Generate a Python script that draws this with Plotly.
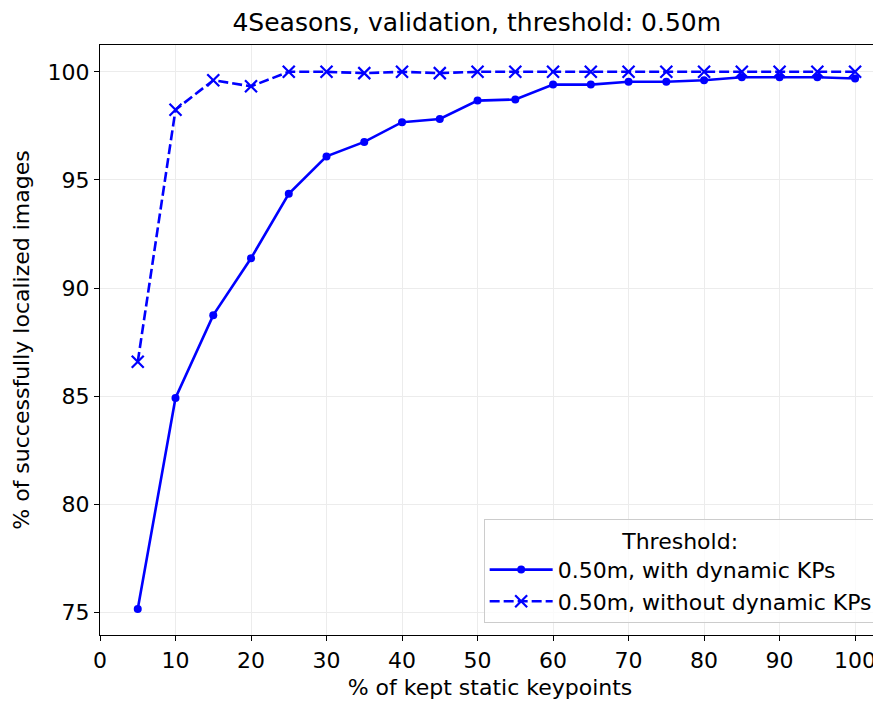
import plotly.graph_objects as go

kept = [5, 10, 15, 20, 25, 30, 35, 40, 45, 50, 55, 60, 65, 70, 75, 80, 85, 90, 95, 100]
with_dyn = [75.16, 84.92, 88.75, 91.38, 94.36, 96.09, 96.76, 97.67, 97.82, 98.67,
            98.72, 99.41, 99.41, 99.54, 99.54, 99.61, 99.75, 99.75, 99.75, 99.69]
without_dyn = [86.59, 98.25, 99.61, 99.33, 100.0, 100.0, 99.94, 100.0, 99.94, 100.0,
               100.0, 100.0, 100.0, 100.0, 100.0, 100.0, 100.0, 100.0, 100.0, 100.0]
x_ticks = [0, 10, 20, 30, 40, 50, 60, 70, 80, 90, 100]
y_ticks = [75, 80, 85, 90, 95, 100]

font = "DejaVu Sans"
fs = 22
fig = go.Figure()
fig.add_trace(go.Scatter(
    x=kept, y=with_dyn, mode="lines+markers", name="0.50m, with dynamic KPs",
    line=dict(color="#0000ff", width=2.6),
    marker=dict(symbol="circle", size=8, color="#0000ff"),
))
fig.add_trace(go.Scatter(
    x=kept, y=without_dyn, mode="lines+markers", name="0.50m, without dynamic KPs",
    line=dict(color="#0000ff", width=2.6, dash="10px,4px"),
    marker=dict(symbol="x-thin", size=12, color="#0000ff",
                line=dict(color="#0000ff", width=2.2)),
))

axis_common = dict(
    showline=True, linecolor="black", linewidth=1.3, mirror=True,
    ticks="outside", ticklen=5, tickwidth=1.3, tickcolor="black",
    showgrid=True, gridcolor="#ececec", gridwidth=1.2, zeroline=False,
    tickfont=dict(family=font, size=fs, color="black"),
)
fig.update_xaxes(range=[0, 103.3], tickvals=x_ticks,
                 title=dict(text="% of kept static keypoints", standoff=8,
                            font=dict(family=font, size=fs, color="black")),
                 **axis_common)
fig.update_yaxes(range=[73.96, 101.24], tickvals=y_ticks,
                 title=dict(text="% of successfully localized images", standoff=11,
                            font=dict(family=font, size=fs, color="black")),
                 **axis_common)

fig.update_layout(
    width=873, height=697,
    margin=dict(l=92, r=1, t=37, b=70),
    paper_bgcolor="white", plot_bgcolor="white",
    title=dict(text="4Seasons, validation, threshold: 0.50m", x=0.537, xanchor="center",
               y=0.979, yanchor="middle",
               font=dict(family=font, size=25, color="black")),
    legend=dict(
        title=dict(text="Threshold:", side="top center",
                   font=dict(family=font, size=fs, color="black")),
        x=0.997, xanchor="right", y=0.02, yanchor="bottom",
        bgcolor="rgba(255,255,255,0.8)", bordercolor="#cccccc", borderwidth=1,
        font=dict(family=font, size=fs, color="black"),
        itemwidth=63, tracegroupgap=0,
    ),
    showlegend=True,
)

fig.write_html("out.html")
